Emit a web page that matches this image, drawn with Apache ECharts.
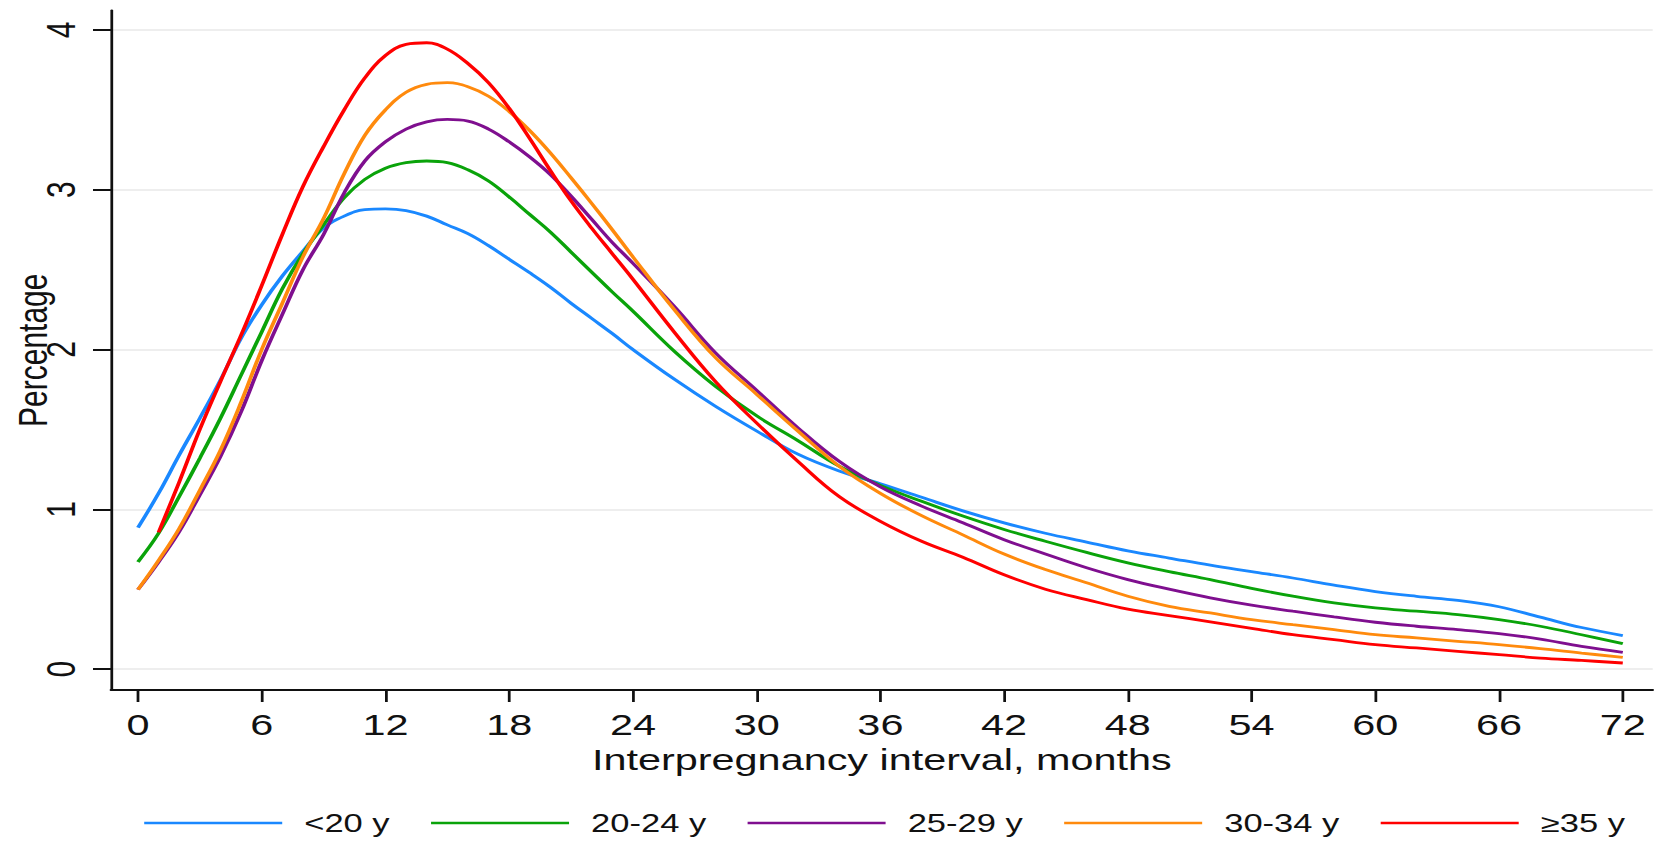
<!DOCTYPE html>
<html>
<head>
<meta charset="utf-8">
<title>Interpregnancy interval by maternal age</title>
<script src="https://cdn.jsdelivr.net/npm/echarts@6/dist/echarts.min.js"></script>
<style>
  html, body { margin: 0; padding: 0; background: #ffffff; overflow: hidden; }
  /* the figure is laid out narrow and stretched horizontally, as in the published graphic */
  #chart { width: 1202px; height: 843px; transform: scaleX(1.38); transform-origin: 0 0; }
</style>
</head>
<body>
<div id="chart"></div>
<script>
// Interpregnancy interval (months) at which each value is given
const months = [0, 1, 2, 3, 4, 5, 6, 7, 8, 9, 10, 11, 12, 13, 14, 15, 16, 17, 18, 19, 20, 21, 22, 23, 24,
  26, 28, 30, 32, 34, 36, 38, 40, 42, 44, 46, 48, 50, 52, 54, 56, 58, 60, 62, 64, 66, 68, 70, 72];

// Percentage of births at each interval, by maternal age group
const ageUnder20 = [0.885, 1.10, 1.34, 1.57, 1.81, 2.07, 2.28, 2.46, 2.615, 2.76, 2.835, 2.875, 2.88, 2.87, 2.835, 2.78, 2.725, 2.65, 2.565, 2.48, 2.39, 2.29, 2.195, 2.10, 2.00,
  1.815, 1.645, 1.49, 1.345, 1.24, 1.16, 1.075, 0.99, 0.915, 0.85, 0.795, 0.74, 0.695, 0.65, 0.61, 0.57, 0.525, 0.485, 0.455, 0.43, 0.39, 0.325, 0.26, 0.21];
const age20to24 = [0.67, 0.85, 1.08, 1.32, 1.57, 1.84, 2.11, 2.38, 2.60, 2.78, 2.95, 3.065, 3.135, 3.17, 3.18, 3.17, 3.125, 3.055, 2.955, 2.845, 2.735, 2.61, 2.485, 2.36, 2.24,
  1.99, 1.77, 1.585, 1.43, 1.27, 1.15, 1.05, 0.958, 0.874, 0.80, 0.73, 0.665, 0.61, 0.56, 0.505, 0.456, 0.414, 0.383, 0.362, 0.341, 0.31, 0.268, 0.215, 0.159];
const age25to29 = [0.497, 0.67, 0.86, 1.09, 1.33, 1.61, 1.93, 2.22, 2.50, 2.72, 2.98, 3.18, 3.30, 3.38, 3.425, 3.44, 3.43, 3.38, 3.30, 3.205, 3.095, 2.96, 2.815, 2.67, 2.54,
  2.27, 1.98, 1.745, 1.51, 1.30, 1.14, 1.02, 0.916, 0.81, 0.72, 0.634, 0.56, 0.50, 0.446, 0.40, 0.362, 0.326, 0.293, 0.268, 0.247, 0.222, 0.188, 0.142, 0.105];
const age30to34 = [0.497, 0.68, 0.88, 1.12, 1.37, 1.67, 2.00, 2.29, 2.58, 2.82, 3.10, 3.34, 3.50, 3.61, 3.66, 3.67, 3.645, 3.585, 3.49, 3.37, 3.23, 3.075, 2.915, 2.75, 2.58,
  2.25, 1.95, 1.72, 1.49, 1.27, 1.10, 0.96, 0.84, 0.72, 0.623, 0.54, 0.456, 0.393, 0.351, 0.31, 0.278, 0.247, 0.215, 0.195, 0.174, 0.153, 0.128, 0.10, 0.073];
const age35plus = [null, 0.856, 1.17, 1.50, 1.80, 2.09, 2.40, 2.72, 3.02, 3.27, 3.50, 3.70, 3.84, 3.91, 3.92, 3.88, 3.79, 3.67, 3.51, 3.32, 3.12, 2.93, 2.76, 2.60, 2.44,
  2.11, 1.80, 1.54, 1.30, 1.08, 0.925, 0.80, 0.70, 0.59, 0.50, 0.435, 0.375, 0.335, 0.295, 0.255, 0.215, 0.184, 0.153, 0.132, 0.111, 0.09, 0.069, 0.054, 0.038];

// Legend labels and tick positions
const groupNames = ['<20 y', '20-24 y', '25-29 y', '30-34 y', '\u226535 y'];
const xTicks = [0, 6, 12, 18, 24, 30, 36, 42, 48, 54, 60, 66, 72];
const yTicks = [0, 1, 2, 3, 4];

const groupValues = [ageUnder20, age20to24, age25to29, age30to34, age35plus];
const groupColors = ['#1a88ff', '#0aa30a', '#7f0f8f', '#ff8a0d', '#ff0000'];

const FONT = '"Liberation Sans", Arial, Helvetica, sans-serif';
const INK = '#111111';

function toPairs(values) {
  const out = [];
  for (let i = 0; i < months.length; i++) {
    if (values[i] !== null && values[i] !== undefined) out.push([months[i], values[i]]);
  }
  return out;
}

const series = groupNames.map((name, i) => ({
  name: name,
  type: 'line',
  data: toPairs(groupValues[i]),
  smooth: 0.4,
  symbol: 'none',
  color: groupColors[i],
  lineStyle: { width: 2.8, color: groupColors[i] },
  z: 2 + i
}));

const chart = echarts.init(document.getElementById('chart'), null, { renderer: 'svg' });
chart.setOption({
  animation: false,
  backgroundColor: '#ffffff',
  textStyle: { fontFamily: FONT, color: INK },
  grid: { left: 80.4, right: 4.4, top: 10.5, bottom: 153, containLabel: false, outerBoundsMode: 'none' },
  legend: {
    data: groupNames,
    icon: 'rect',
    left: 99.5,
    top: 805.5,
    itemWidth: 100,
    itemHeight: 2.6,
    itemGap: 30,
    textStyle: { fontFamily: FONT, fontSize: 25, color: INK, padding: [0, 0, 0, 11] }
  },
  xAxis: {
    type: 'value',
    min: -1.31,
    max: 73.45,
    name: 'Interpregnancy interval, months',
    nameLocation: 'middle',
    nameGap: 52,
    nameTextStyle: { fontFamily: FONT, fontSize: 30, color: INK },
    axisLine: { show: true, onZero: false, lineStyle: { color: INK, width: 2 } },
    axisTick: { show: true, length: 12, lineStyle: { color: INK, width: 2 }, customValues: xTicks },
    axisLabel: { customValues: xTicks, fontFamily: FONT, fontSize: 30, color: INK, margin: 20 },
    splitLine: { show: false }
  },
  yAxis: {
    type: 'value',
    min: -0.131,
    max: 4.122,
    name: 'Percentage',
    nameLocation: 'middle',
    nameRotate: 90,
    nameGap: 41.6,
    nameMoveOverlap: false,
    nameTextStyle: { fontFamily: FONT, fontSize: 30, color: INK },
    axisLine: { show: true, onZero: false, lineStyle: { color: INK, width: 2 } },
    axisTick: { show: true, length: 13, lineStyle: { color: INK, width: 2 }, customValues: yTicks },
    axisLabel: { customValues: yTicks, rotate: 90, fontFamily: FONT, fontSize: 30, color: INK, margin: 21.5 },
    splitLine: { show: true, lineStyle: { color: '#e8e8e8', width: 1.5 } }
  },
  series: series
});
</script>
</body>
</html>
